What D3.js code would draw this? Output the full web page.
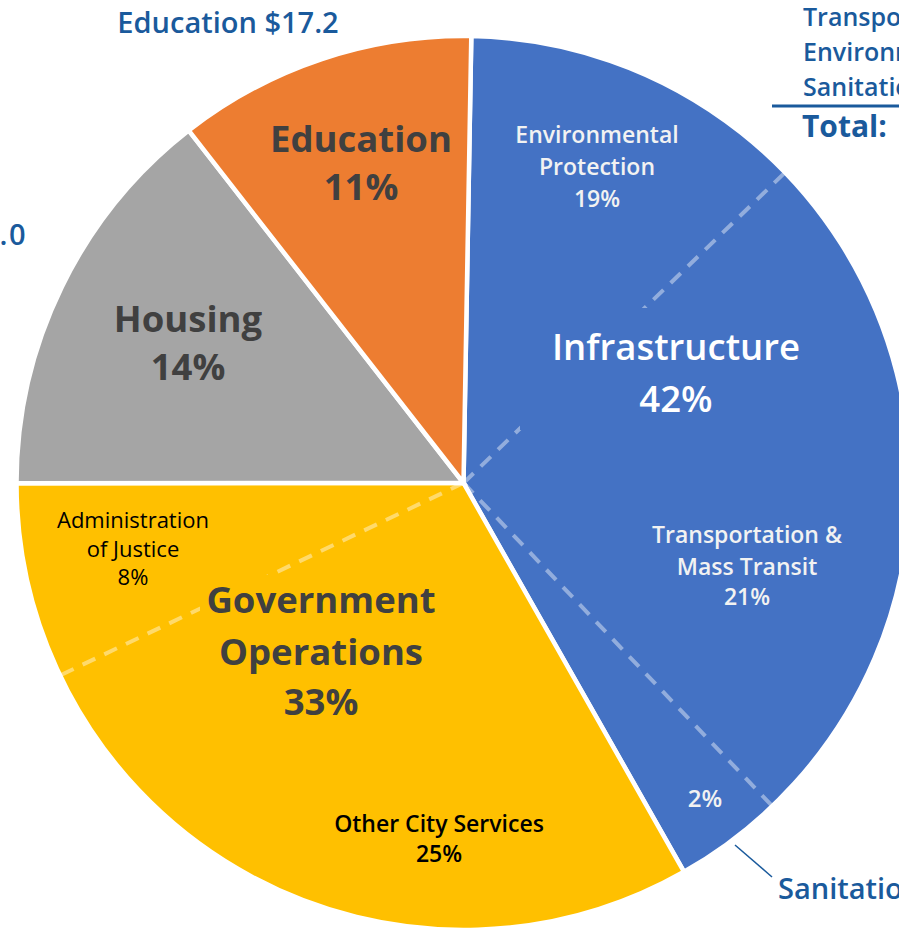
<!DOCTYPE html>
<html>
<head>
<meta charset="utf-8">
<script src="https://cdn.jsdelivr.net/npm/d3@7"></script>
<style>
  html, body { margin: 0; padding: 0; background: #fff; overflow: hidden; }
  svg { display: block; font-family: "Open Sans", "Noto Sans", sans-serif; }
</style>
</head>
<body>
<svg id="chart" width="899" height="928"></svg>
<script>
// Ten-year capital plan by program area ($ billions)
const categories = ["Infrastructure", "Government Operations", "Housing", "Education"];
const amounts = [66.0, 52.8, 23.0, 17.2];

// Infrastructure breakdown ($ billions)
const infraParts = ["Environmental Protection", "Transportation & Mass Transit", "Sanitation"];
const infraAmounts = [29.9, 33.0, 3.1];

// Government Operations breakdown ($ billions)
const govParts = ["Administration of Justice", "Other City Services"];
const govAmounts = [12.6, 40.2];

const total = d3.sum(amounts);
const pct = v => Math.round(v / total * 100) + "%";
const money = v => "$" + v.toFixed(1);
const rad = d => d * Math.PI / 180;

const sliceColor = d3.scaleOrdinal()
  .domain(categories)
  .range(["#4472c4", "#ffc000", "#a5a5a5", "#ed7d31"]);

const W = 899, H = 928;
const cx = 463.5, cy = 483, R = 447;

const svg = d3.select("#chart");
const g = svg.append("g").attr("transform", `translate(${cx},${cy})`);

const pie = d3.pie().sort(null).startAngle(rad(1)).endAngle(rad(361));
const arc = d3.arc().innerRadius(0).outerRadius(R);
const slices = pie(amounts);

g.selectAll("path.slice")
  .data(slices)
  .join("path")
  .attr("class", "slice")
  .attr("d", arc)
  .attr("fill", (d, i) => sliceColor(categories[i]))
  .attr("stroke", "#fff")
  .attr("stroke-width", 4.5);

// Dashed guides marking the sub-areas inside Infrastructure and Government Operations
const guideBearings = [46, 136.3, 244.5];
g.selectAll("line.guide")
  .data(guideBearings)
  .join("line")
  .attr("class", "guide")
  .attr("x1", 0).attr("y1", 0)
  .attr("x2", a => R * Math.sin(rad(a)))
  .attr("y2", a => -R * Math.cos(rad(a)))
  .attr("stroke", "#fff")
  .attr("stroke-opacity", 0.42)
  .attr("stroke-width", 4)
  .attr("stroke-dasharray", "14 10");

// Plates behind the headline labels so the guides stop short of the text
const plates = [
  { cat: "Infrastructure", x: 520, y: 308, w: 310, h: 122 },
  { cat: "Government Operations", x: 200, y: 575, w: 245, h: 150 }
];
svg.selectAll("rect.plate")
  .data(plates)
  .join("rect")
  .attr("class", "plate")
  .attr("x", d => d.x).attr("y", d => d.y)
  .attr("width", d => d.w).attr("height", d => d.h)
  .attr("fill", d => sliceColor(d.cat));

// In-slice labels
const dark = "#404040";
const labels = [
  { lines: [categories[3], pct(amounts[3])], x: 361, ys: [152, 200], size: 36.5, weight: 700, color: dark },
  { lines: [categories[2], pct(amounts[2])], x: 188, ys: [332, 380], size: 36.5, weight: 700, color: dark },
  { lines: [categories[0], pct(amounts[0])], x: 676, ys: [360, 412], size: 36.5, weight: 600, color: "#fff" },
  { lines: ["Government", "Operations", pct(amounts[1])], x: 321, ys: [613, 665, 715], size: 36.5, weight: 700, color: dark },
  { lines: ["Environmental", "Protection", pct(infraAmounts[0])], x: 597, ys: [143, 175, 207], size: 23, weight: 600, color: "#f2f2f2" },
  { lines: ["Transportation &", "Mass Transit", pct(infraAmounts[1])], x: 747, ys: [543, 575, 605], size: 23, weight: 600, color: "#f2f2f2" },
  { lines: [pct(infraAmounts[2])], x: 705, ys: [807], size: 24, weight: 600, color: "#f2f2f2" },
  { lines: ["Administration", "of Justice", pct(govAmounts[0])], x: 133, ys: [528, 557, 585], size: 22, weight: 500, color: "#000" },
  { lines: [govParts[1], pct(govAmounts[1])], x: 439, ys: [832, 862], size: 23, weight: 600, color: "#000" }
];

labels.forEach(l => {
  const t = svg.append("text")
    .attr("text-anchor", "middle")
    .attr("font-size", l.size)
    .attr("font-weight", l.weight)
    .attr("fill", l.color);
  l.lines.forEach((s, i) => {
    t.append("tspan").attr("x", l.x).attr("y", l.ys[i]).text(s);
  });
});

// Dollar call-outs around the pie
const blue = "#1a5a9c";
svg.append("text")
  .attr("x", 228).attr("y", 33)
  .attr("text-anchor", "middle")
  .attr("font-size", 29).attr("font-weight", 600).attr("fill", blue)
  .text(`${categories[3]} ${money(amounts[3])}`);

svg.append("text")
  .attr("x", 27).attr("y", 245)
  .attr("text-anchor", "end")
  .attr("font-size", 29).attr("font-weight", 600).attr("fill", blue)
  .attr("letter-spacing", 1.5)
  .text(`${categories[2]} ${money(amounts[2])}`);

// Sanitation leader
svg.append("line")
  .attr("x1", 735).attr("y1", 845).attr("x2", 772).attr("y2", 877)
  .attr("stroke", blue).attr("stroke-width", 1.5);
svg.append("text")
  .attr("x", 778).attr("y", 899)
  .attr("font-size", 29).attr("font-weight", 600).attr("fill", blue)
  .text(`${infraParts[2]} ${money(infraAmounts[2])}`);

// Infrastructure tally, top right: names on the left, amounts in a right-hand column
const tallyOrder = [1, 0, 2];
const tallyY = [26, 61, 96];
const tallyNames = svg.append("text")
  .attr("font-size", 25).attr("font-weight", 600).attr("fill", blue);
const tallyValues = svg.append("text")
  .attr("font-size", 25).attr("font-weight", 600).attr("fill", blue)
  .attr("text-anchor", "end");
tallyOrder.forEach((idx, i) => {
  tallyNames.append("tspan").attr("x", 803).attr("y", tallyY[i]).text(infraParts[idx]);
  tallyValues.append("tspan").attr("x", 1240).attr("y", tallyY[i]).text(money(infraAmounts[idx]));
});
svg.append("line")
  .attr("x1", 772).attr("x2", W).attr("y1", 106).attr("y2", 106)
  .attr("stroke", blue).attr("stroke-width", 3);
svg.append("text")
  .attr("x", 802).attr("y", 137)
  .attr("font-size", 30).attr("font-weight", 700).attr("fill", blue)
  .text("Total:");
svg.append("text")
  .attr("x", 1240).attr("y", 137)
  .attr("text-anchor", "end")
  .attr("font-size", 30).attr("font-weight", 700).attr("fill", blue)
  .text(money(d3.sum(infraAmounts)));
</script>
</body>
</html>
